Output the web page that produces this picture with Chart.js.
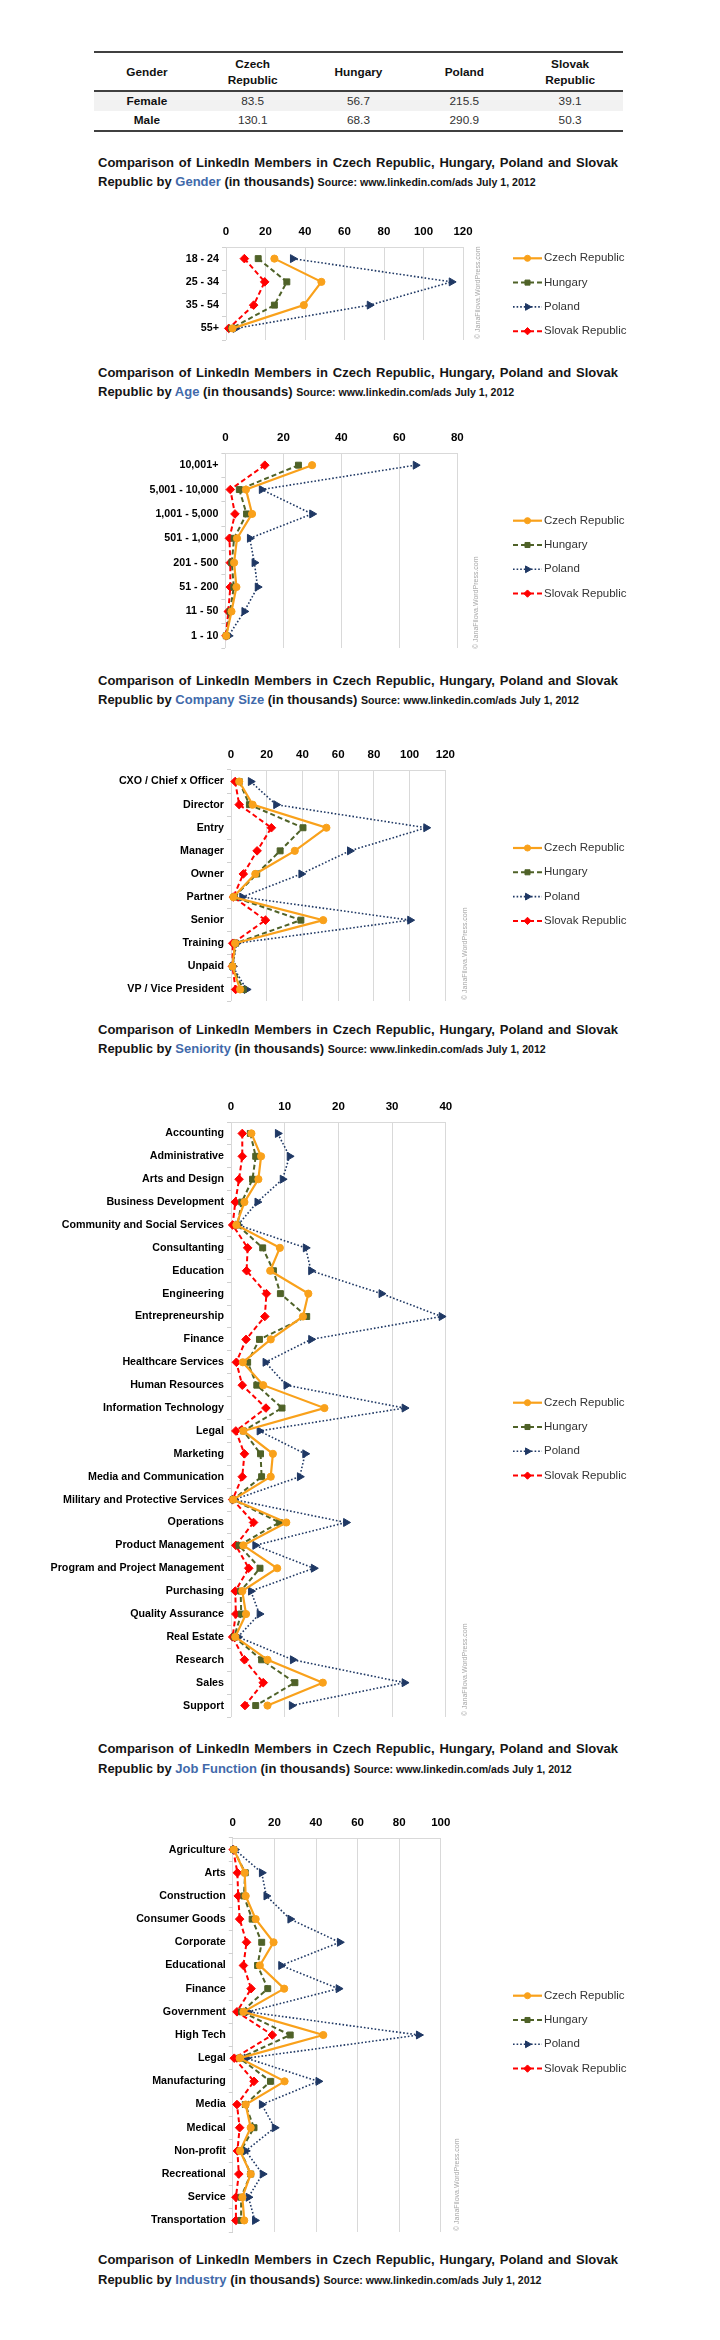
<!DOCTYPE html>
<html><head><meta charset="utf-8">
<script src="https://cdn.jsdelivr.net/npm/chart.js"></script>
<style>
html,body{margin:0;padding:0;background:#fff;}
body{width:720px;height:2340px;position:relative;overflow:hidden;font-family:'Liberation Sans',Arial,sans-serif;color:#111;}
.cap{position:absolute;left:98px;font-weight:bold;font-size:13px;line-height:19.5px;white-space:nowrap;color:#151515;}
.cap .l1{width:520px;text-align:justify;text-align-last:justify;}
.cap .hl{color:#4169AA;}
.cap .src{font-size:10.6px;}
.wm{position:absolute;transform-origin:left top;transform:rotate(-90deg);font-size:7px;color:#a8a8a8;white-space:nowrap;line-height:9px;height:9px;}
.rule{position:absolute;left:94px;width:529px;height:2px;background:#404040;}
.cell{position:absolute;width:105.8px;text-align:center;font-size:11.8px;}
</style></head><body>
<script>
// ---------- DATA ----------
const countries = ['Czech Republic', 'Hungary', 'Poland', 'Slovak Republic'];
const tableHeaders = ['Gender', 'Czech<br>Republic', 'Hungary', 'Poland', 'Slovak<br>Republic'];
const genderCategories = ['Female', 'Male'];
const genderCzech = [83.5, 130.1];
const genderHungary = [56.7, 68.3];
const genderPoland = [215.5, 290.9];
const genderSlovak = [39.1, 50.3];

const ageCategories = ['18 - 24', '25 - 34', '35 - 54', '55+'];
const ageCzech   = [24.5, 48.3, 39.4, 3.3];
const ageHungary = [16.3, 30.8, 24.5, 2.8];
const agePoland  = [33.8, 114.2, 72.7, 4.9];
const ageSlovak  = [9.3, 19.6, 14.0, 1.4];
const ageTicks = [0, 120, 20];

const sizeCategories = ['10,001+', '5,001 - 10,000', '1,001 - 5,000', '501 - 1,000', '201 - 500', '51 - 200', '11 - 50', '1 - 10'];
const sizeCzech   = [29.9, 7.1, 9.2, 4.0, 3.0, 3.8, 2.1, 0.3];
const sizeHungary = [25.2, 4.8, 7.3, 3.0, 2.2, 2.9, 1.6, 0.3];
const sizePoland  = [65.6, 12.5, 29.9, 8.4, 10.0, 11.1, 6.5, 1.1];
const sizeSlovak  = [13.6, 1.7, 3.3, 1.4, 1.7, 1.7, 1.0, 0.2];
const sizeTicks = [0, 80, 20];

const seniorityCategories = ['CXO / Chief x Officer', 'Director', 'Entry', 'Manager', 'Owner', 'Partner', 'Senior', 'Training', 'Unpaid', 'VP / Vice President'];
const seniorityCzech   = [4.6, 12.1, 53.4, 35.7, 13.6, 1.3, 51.6, 2.3, 0.8, 5.1];
const seniorityHungary = [4.6, 10.3, 40.3, 27.5, 14.4, 1.8, 39.1, 2.6, 0.8, 6.9];
const seniorityPoland  = [11.0, 25.2, 109.2, 66.5, 39.3, 6.2, 100.2, 3.1, 1.0, 8.7];
const senioritySlovak  = [2.3, 4.6, 22.6, 14.6, 6.9, 1.3, 19.3, 1.0, 0.8, 2.6];
const seniorityTicks = [0, 120, 20];

const jobCategories = ['Accounting', 'Administrative', 'Arts and Design', 'Business Development', 'Community and Social Services', 'Consultanting', 'Education', 'Engineering', 'Entrepreneurship', 'Finance', 'Healthcare Services', 'Human Resources', 'Information Technology', 'Legal', 'Marketing', 'Media and Communication', 'Military and Protective Services', 'Operations', 'Product Management', 'Program and Project Management', 'Purchasing', 'Quality Assurance', 'Real Estate', 'Research', 'Sales', 'Support'];
const jobCzech   = [3.8, 5.6, 5.1, 2.5, 1.0, 9.1, 7.3, 14.4, 13.4, 7.4, 2.2, 6.0, 17.4, 2.3, 7.8, 7.4, 0.4, 10.3, 2.3, 8.6, 2.1, 2.8, 0.8, 6.8, 17.1, 6.8];
const jobHungary = [3.6, 4.6, 4.0, 2.0, 1.2, 5.9, 7.9, 9.2, 14.1, 5.3, 3.1, 4.8, 9.5, 2.3, 5.5, 5.7, 0.4, 9.0, 1.5, 5.4, 1.8, 1.9, 0.6, 5.7, 11.9, 4.6];
const jobPoland  = [8.7, 10.9, 9.6, 4.9, 1.3, 13.9, 14.9, 28.0, 39.2, 14.9, 6.4, 10.3, 32.3, 5.3, 13.8, 12.8, 0.6, 21.4, 4.5, 15.4, 3.7, 5.3, 1.3, 11.5, 32.3, 11.3];
const jobSlovak  = [2.1, 2.1, 1.5, 0.8, 0.3, 3.1, 2.9, 6.6, 6.3, 2.8, 1.0, 2.1, 6.5, 0.9, 2.5, 2.1, 0.3, 4.2, 0.9, 3.3, 0.8, 0.9, 0.3, 2.5, 6.0, 2.6];
const jobTicks = [0, 40, 10];

const industryCategories = ['Agriculture', 'Arts', 'Construction', 'Consumer Goods', 'Corporate', 'Educational', 'Finance', 'Government', 'High Tech', 'Legal', 'Manufacturing', 'Media', 'Medical', 'Non-profit', 'Recreational', 'Service', 'Transportation'];
const industryCzech   = [0.5, 5.7, 6.2, 11.0, 19.6, 13.0, 24.7, 5.1, 43.5, 3.3, 24.9, 6.2, 8.6, 3.5, 8.6, 4.6, 5.5];
const industryHungary = [0.4, 6.0, 5.3, 9.3, 13.9, 11.9, 16.8, 4.2, 27.6, 3.3, 18.1, 6.0, 10.2, 3.8, 8.6, 4.0, 4.0];
const industryPoland  = [1.0, 13.9, 16.1, 27.6, 51.4, 23.2, 50.8, 7.3, 89.4, 6.6, 41.1, 13.9, 20.1, 6.2, 14.3, 7.5, 10.6];
const industrySlovak  = [0.2, 2.2, 2.6, 3.3, 6.6, 5.1, 8.8, 2.0, 19.0, 0.7, 10.2, 2.0, 3.3, 2.2, 2.9, 1.5, 1.5];
const industryTicks = [0, 100, 20];

const captionSubjects = ['Gender', 'Age', 'Company Size', 'Seniority', 'Job Function', 'Industry'];
const watermarkText = '\u00A9 JanaFilova.WordPress.com';

// ---------- STYLES ----------
const FONT = "'Liberation Sans', Arial, sans-serif";
const seriesStyles = [
  {borderColor:'#F9A11B', borderWidth:2.2, borderDash:[], pointStyle:'circle', pointRadius:3.6, pointRotation:0},
  {borderColor:'#4F6228', borderWidth:2, borderDash:[5,3], pointStyle:'rect', pointRadius:4.2, pointRotation:0},
  {borderColor:'#1F3864', borderWidth:1.6, borderDash:[1.6,2], pointStyle:'triangle', pointRadius:4.6, pointRotation:90},
  {borderColor:'#FF0000', borderWidth:2, borderDash:[5,3], pointStyle:'rectRot', pointRadius:4.3, pointRotation:0}
];

// ---------- TABLE ----------
function addDiv(cls, style, html){
  const d = document.createElement('div');
  d.className = cls; d.setAttribute('style', style); d.innerHTML = html;
  document.body.appendChild(d); return d;
}
(function table(){
  addDiv('rule', 'top:51.3px;', '');
  addDiv('rule', 'top:90px;', '');
  addDiv('rule', 'top:129.7px;', '');
  addDiv('', 'position:absolute;left:94px;top:92px;width:529px;height:19px;background:#F2F2F2;', '');
  tableHeaders.forEach((h, i) => {
    const twoLine = h.indexOf('<br>') >= 0;
    addDiv('cell', 'left:' + (94 + i*105.8) + 'px;top:' + (twoLine ? 57 : 64.7) + 'px;font-weight:bold;line-height:15.7px;', h);
  });
  const cols = [genderCzech, genderHungary, genderPoland, genderSlovak];
  genderCategories.forEach((g, r) => {
    const top = [92.7, 112][r];
    addDiv('cell', 'left:94px;top:' + top + 'px;font-weight:bold;line-height:17px;', g);
    cols.forEach((col, c) => {
      addDiv('cell', 'left:' + (94 + (c+1)*105.8) + 'px;top:' + top + 'px;line-height:17px;color:#333;', col[r].toFixed(1));
    });
  });
})();

// ---------- CAPTIONS ----------
const captionY = [162.3, 372.5, 680.7, 1029.3, 1749, 2260];
captionSubjects.forEach((s, i) => {
  addDiv('cap', 'top:' + (captionY[i] - 9.75) + 'px;',
    '<div class="l1">Comparison of LinkedIn Members in Czech Republic, Hungary, Poland and Slovak</div>' +
    '<div>Republic by <span class="hl">' + s + '</span> (in thousands) <span class="src">Source: www.linkedin.com/ads July 1, 2012</span></div>');
});

// ---------- LEGEND PLUGIN ----------
function markerPath(ctx, style, r, rot, x, y){
  if (Chart.helpers && Chart.helpers.drawPoint) {
    Chart.helpers.drawPoint(ctx, {pointStyle:style, radius:r, rotation:rot, borderWidth:1}, x, y);
    return;
  }
  ctx.beginPath(); ctx.arc(x, y, r, 0, Math.PI*2); ctx.fill();
}
const legendPlugin = {
  id: 'lineLegend',
  afterDraw(chart, args, opts){
    const ctx = chart.ctx;
    chart.data.datasets.forEach((ds, i) => {
      const y = opts.top + i * opts.gap;
      ctx.save();
      ctx.strokeStyle = ds.borderColor; ctx.lineWidth = ds.borderWidth;
      ctx.setLineDash(ds.borderDash || []);
      ctx.beginPath(); ctx.moveTo(513, y); ctx.lineTo(542, y); ctx.stroke();
      ctx.setLineDash([]);
      ctx.fillStyle = ds.borderColor; ctx.strokeStyle = ds.borderColor; ctx.lineWidth = 1;
      markerPath(ctx, ds.pointStyle, ds.pointRadius * 0.85, ds.pointRotation, 527.5, y);
      ctx.fillStyle = '#333'; ctx.font = '11.5px ' + FONT;
      ctx.textBaseline = 'middle'; ctx.textAlign = 'left';
      ctx.fillText(ds.label, 544, y);
      ctx.restore();
    });
  }
};

// ---------- CHARTS ----------
function makeChart(spec){
  const gTop = Math.round(spec.gridTop), gBot = Math.round(spec.gridBottom);
  const canvasTop = gTop - 30;
  const h = gBot - canvasTop + 14;
  const c = document.createElement('canvas');
  c.width = 720; c.height = h;
  c.style.cssText = 'position:absolute;left:0;top:' + canvasTop + 'px;width:720px;height:' + h + 'px;';
  document.body.appendChild(c);
  const datasets = spec.series.map((vals, i) => {
    const st = seriesStyles[i];
    return {
      label: countries[i], data: vals,
      borderColor: st.borderColor, backgroundColor: st.borderColor,
      borderWidth: st.borderWidth, borderDash: st.borderDash,
      pointStyle: st.pointStyle, pointRadius: st.pointRadius, pointRotation: st.pointRotation,
      pointBackgroundColor: st.borderColor, pointBorderColor: st.borderColor, pointBorderWidth: 1,
      tension: 0, fill: false, clip: false
    };
  });
  new Chart(c, {
    type: 'line',
    data: {labels: spec.labels, datasets},
    options: {
      responsive: false, animation: false, devicePixelRatio: 1,
      indexAxis: 'y',
      layout: {padding: {left: 0, top: 0, right: 720 - spec.xRight, bottom: h - 30 - (gBot - gTop)}},
      plugins: {
        legend: {display: false}, tooltip: {enabled: false},
        lineLegend: {top: spec.legendTop - canvasTop, gap: 24.3}
      },
      scales: {
        x: {
          type: 'linear', position: 'top', min: spec.ticks[0], max: spec.ticks[1],
          ticks: {stepSize: spec.ticks[2], color: '#000', padding: 8, font: {family: FONT, size: 11.5, weight: 'bold'}},
          grid: {color: '#d9d9d9', drawTicks: false, lineWidth: 1},
          border: {display: true, color: '#d9d9d9'},
          afterFit(s){ s.height = 30; }
        },
        y: {
          type: 'category', offset: true,
          ticks: {color: '#000', padding: 3, autoSkip: false, font: {family: FONT, size: 10.7, weight: 'bold'}},
          grid: {offset: true, drawOnChartArea: false, drawTicks: true, tickLength: 4, color: '#d0d0d0'},
          border: {display: false},
          afterFit(s){ s.width = spec.x0; }
        }
      }
    },
    plugins: [legendPlugin]
  });
  // watermark
  addDiv('wm', 'left:' + (spec.wmX - 4.5) + 'px;top:' + spec.wmBottom + 'px;', watermarkText);
}

makeChart({labels: ageCategories, series: [ageCzech, ageHungary, agePoland, ageSlovak], ticks: ageTicks,
  x0: 226, xRight: 463, gridTop: 246.7, gridBottom: 340, legendTop: 258.3, wmX: 477, wmBottom: 339});
makeChart({labels: sizeCategories, series: [sizeCzech, sizeHungary, sizePoland, sizeSlovak], ticks: sizeTicks,
  x0: 225.4, xRight: 457.3, gridTop: 453.3, gridBottom: 648.3, legendTop: 520.7, wmX: 475, wmBottom: 649});
makeChart({labels: seniorityCategories, series: [seniorityCzech, seniorityHungary, seniorityPoland, senioritySlovak], ticks: seniorityTicks,
  x0: 231, xRight: 445.4, gridTop: 770, gridBottom: 1000.7, legendTop: 848, wmX: 464, wmBottom: 1000});
makeChart({labels: jobCategories, series: [jobCzech, jobHungary, jobPoland, jobSlovak], ticks: jobTicks,
  x0: 231, xRight: 445.8, gridTop: 1122.3, gridBottom: 1716.7, legendTop: 1402.7, wmX: 464, wmBottom: 1716});
makeChart({labels: industryCategories, series: [industryCzech, industryHungary, industryPoland, industrySlovak], ticks: industryTicks,
  x0: 232.8, xRight: 440.8, gridTop: 1838.3, gridBottom: 2231.7, legendTop: 1995.7, wmX: 456, wmBottom: 2231});
</script>
</body></html>
